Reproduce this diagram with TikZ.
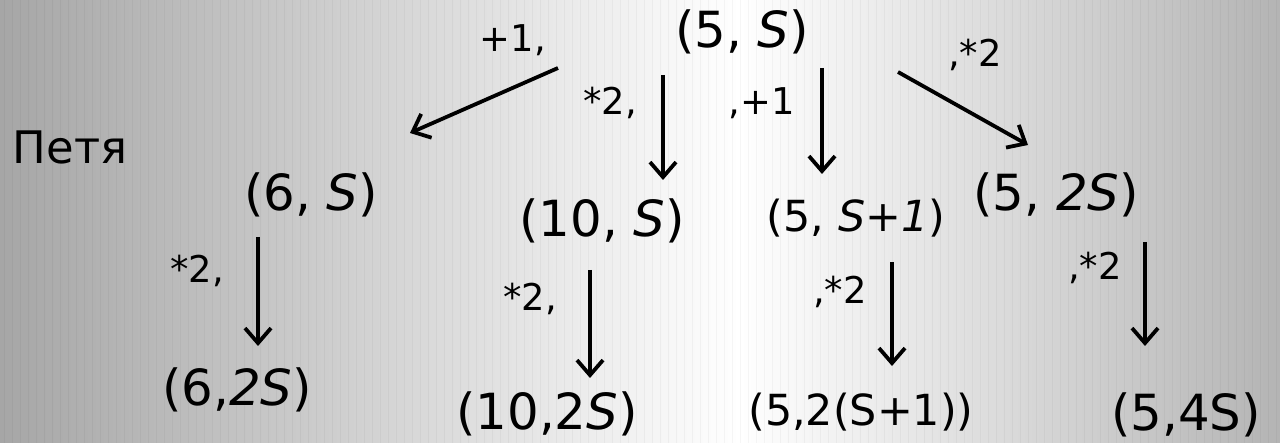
\documentclass[tikz,border=0pt]{standalone}
\usepackage{fontspec}
\setmainfont{DejaVu Sans}
\usetikzlibrary{arrows.meta}
\definecolor{bgL}{RGB}{166,166,166}
\definecolor{bgR}{RGB}{180,180,180}
\begin{document}
\begin{tikzpicture}[x=1bp,y=-1bp,
  big/.style={font=\fontsize{50}{58}\selectfont, inner sep=0},
  mid/.style={font=\fontsize{43}{50}\selectfont, inner sep=0},
  lbl/.style={font=\fontsize{37}{44}\selectfont, inner sep=0},
  arr/.style={line width=3.8bp, -{Straight Barb[length=15bp,width=26bp,line width=3.8bp]}}]
\useasboundingbox (0,0) rectangle (1280,443);
\shade[left color=bgL,right color=white] (0,0) rectangle (740,443);
\shade[left color=white,right color=bgR] (740,0) rectangle (1280,443);
\foreach \x in {4,12,...,1276} \draw[black, opacity=0.035, line width=0.7bp] (\x,0) -- (\x,443);
% nodes
\node[big] (top) at (742,32) {(5, \textit{S})};
\node[font=\fontsize{45}{52}\selectfont, inner sep=0] (petya) at (70,147) {Петя};
\node[big] (n6) at (311,195) {(6, \textit{S})};
\node[big] (n10) at (602,221) {(10, \textit{S})};
\node[mid] (n5a) at (856,218) {(5, \textit{S+1})};
\node[big] (n5b) at (1056,195) {(5, \textit{2S})};
\node[big] (m6) at (237,390) {(6,\textit{2S})};
\node[big] (m10) at (547,414) {(10,2\textit{S})};
\node[mid] (m5a) at (861,412) {(5,2(S+1))};
\node[big] (m5b) at (1186,415) {(5,4S)};
% labels
\node[lbl] (l1) at (513,40) {+1,};
\node[lbl] (l2) at (610,103) {*2,};
\node[lbl] (l3) at (762,103) {,+1};
\node[lbl] (l4) at (975,55) {,*2};
\node[lbl] (l5) at (197,271) {*2,};
\node[lbl] (l6) at (530,299) {*2,};
\node[lbl] (l7) at (840,292) {,*2};
\node[lbl] (l8) at (1095,268) {,*2};
% arrows
\draw[arr] ([shift={(-184,36)}]top.center) -- ([shift={(99,-62)}]n6.center);
\draw[arr] ([shift={(-79,43)}]top.center) -- ([shift={(61,-41)}]n10.center);
\draw[arr] ([shift={(80,36)}]top.center) -- ([shift={(-34,-44)}]n5a.center);
\draw[arr] ([shift={(156,40)}]top.center) -- ([shift={(-28,-50)}]n5b.center);
\draw[arr] ([shift={(-53,42)}]n6.center) -- ([shift={(21,-44)}]m6.center);
\draw[arr] ([shift={(-12,49)}]n10.center) -- ([shift={(43,-36)}]m10.center);
\draw[arr] ([shift={(36,44)}]n5a.center) -- ([shift={(31,-46)}]m5a.center);
\draw[arr] ([shift={(89,47)}]n5b.center) -- ([shift={(-41,-69)}]m5b.center);
\end{tikzpicture}
\end{document}
